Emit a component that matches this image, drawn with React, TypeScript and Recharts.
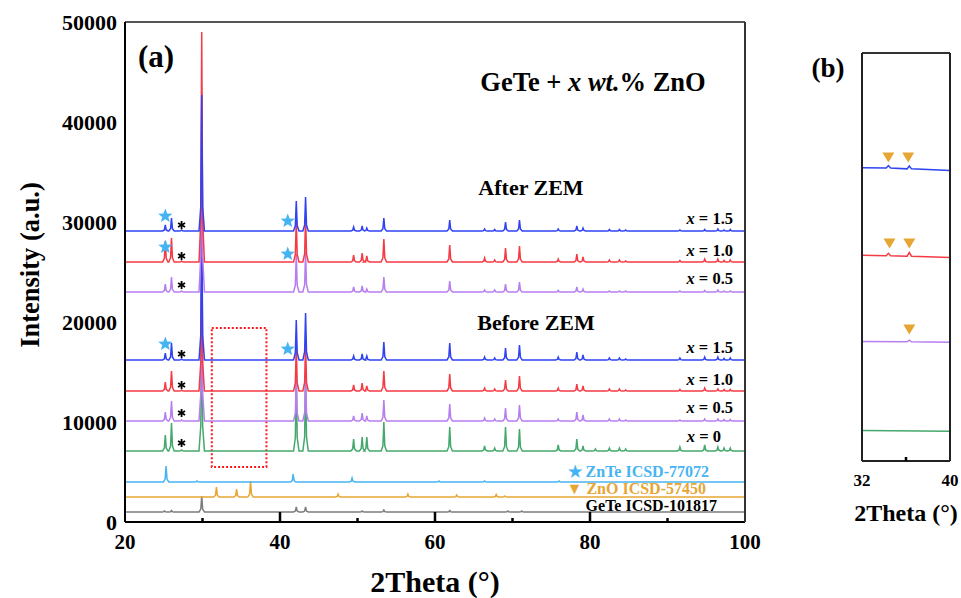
import React from 'react'
import { LineChart, Line, XAxis, YAxis, ReferenceArea, ReferenceDot } from 'recharts'

const FONT = '"Liberation Serif", "Times New Roman", serif'

// peak positions (2theta) shared by all GeTe + ZnO samples
const peakPos = [25.2, 26.0, 27.3, 29.9, 42.1, 43.3, 49.5, 50.6, 51.2, 53.4, 61.9, 66.4, 67.7, 69.1, 70.9, 75.9, 78.3, 79.1, 80.7, 82.5, 83.8, 84.6, 91.6, 94.8, 96.5, 97.3, 98.1]

// peak heights above baseline
const afterX15 = [600, 1300, 100, 13600, 3000, 3400, 400, 500, 300, 1300, 1100, 200, 150, 900, 1100, 200, 500, 300, 0, 150, 150, 100, 100, 150, 200, 100, 150]
const afterX10 = [2100, 2400, 100, 23000, 4200, 4500, 700, 900, 600, 2300, 1700, 400, 200, 1400, 1600, 300, 800, 500, 0, 200, 200, 100, 150, 300, 300, 150, 200]
const afterX05 = [800, 1500, 100, 20000, 3800, 4000, 500, 600, 300, 1500, 1100, 200, 200, 800, 1000, 150, 500, 300, 0, 100, 100, 100, 100, 150, 200, 100, 100]
const beforeX15 = [700, 1700, 100, 14000, 4000, 4700, 400, 600, 400, 1800, 1700, 300, 200, 1200, 1500, 300, 800, 500, 0, 200, 200, 100, 200, 300, 300, 150, 200]
const beforeX10 = [900, 2000, 100, 16000, 4500, 4800, 600, 800, 500, 2000, 1700, 300, 200, 1100, 1500, 300, 700, 500, 0, 200, 200, 100, 150, 300, 200, 150, 150]
const beforeX05 = [900, 2000, 100, 15000, 4300, 4600, 500, 800, 500, 2100, 1700, 300, 200, 1300, 1600, 200, 900, 600, 0, 200, 200, 100, 100, 200, 200, 150, 150]
const beforeX0 = [1600, 2800, 100, 14000, 7500, 7800, 1200, 1400, 1400, 2900, 2400, 500, 300, 2400, 2200, 600, 1200, 500, 200, 300, 300, 200, 400, 600, 400, 300, 300]

// baselines (offsets) of the stacked patterns
const baseAfter = [29100, 26000, 23000]
const baseBefore = [16200, 13100, 10100, 7100]

// reference patterns [2theta, height]
const znteRef: [number, number][] = [[25.3, 1600], [29.3, 100], [41.7, 800], [49.3, 400], [60.5, 100], [66.4, 100], [76.0, 100]]
const znoRef: [number, number][] = [[31.8, 1000], [34.4, 800], [36.2, 1600], [47.5, 300], [56.5, 300], [62.8, 200], [67.9, 250], [69.0, 100]]
const geteRef: [number, number][] = [[25.1, 100], [26.0, 150], [29.9, 1600], [42.1, 500], [43.3, 500], [50.6, 100], [53.4, 200], [61.9, 150], [69.4, 100], [71.2, 100]]
const refBase = [4000, 2500, 1000]

// axis ticks
const xLabels = [20, 40, 60, 80, 100]
const xMajor = [40, 60, 80]
const xMinor = [30, 50, 70, 90]
const yTicks = [0, 10000, 20000, 30000, 40000, 50000]

// markers in panel (a)
const starPts: [number, number][] = [[25.2, 30600], [25.2, 27500], [25.2, 17800], [41.0, 30100], [41.0, 26800], [41.0, 17300]]
const asteriskPts: [number, number][] = [[27.3, 29700], [27.3, 26600], [27.3, 23700], [27.3, 16800], [27.3, 13700], [27.3, 10900], [27.3, 7900]]

// panel (b): zoom 32-40 deg
const bBlue: [number, number][] = [[32, 71.9], [34.2, 71.8], [34.4, 72.4], [34.6, 71.8], [36.1, 71.6], [36.3, 72.3], [36.5, 71.6], [40, 71.2]]
const bRed: [number, number][] = [[32, 50.4], [34.2, 50.3], [34.4, 50.9], [34.6, 50.3], [36.1, 50.2], [36.3, 51.1], [36.5, 50.2], [40, 49.9]]
const bPurple: [number, number][] = [[32, 29.3], [36.1, 29.2], [36.3, 29.6], [36.5, 29.2], [40, 29.1]]
const bGreen: [number, number][] = [[32, 7.5], [40, 7.3]]
const bTriangles: [number, number][] = [[34.4, 74.4], [36.2, 74.4], [34.5, 53.3], [36.3, 53.3], [36.3, 32.2]]

const BLUE = '#2f43f2'
const RED = '#f53a44'
const PURPLE = '#b67ef0'
const GREEN = '#45a86c'
const LBLUE = '#46b4f2'
const ORANGE = '#e7a634'
const GRAY = '#7c7c7c'

function pattern(base: number, peaks: [number, number][]) {
  const pts = [{ x: 20, y: base }]
  peaks.forEach(([p, h]) => {
    if (h <= 0) return
    pts.push({ x: p - 0.35, y: base }, { x: p - 0.12, y: base + h * 0.18 }, { x: p, y: base + h }, { x: p + 0.12, y: base + h * 0.18 }, { x: p + 0.35, y: base })
  })
  pts.push({ x: 100, y: base })
  return pts
}

const zipPeaks = (h: number[]) => peakPos.map((p, i) => [p, h[i]] as [number, number])
const toPts = (a: [number, number][]) => a.map(([x, y]) => ({ x, y }))

const series = [
  { key: 'gete', color: GRAY, data: pattern(refBase[2], geteRef) },
  { key: 'zno', color: ORANGE, data: pattern(refBase[1], znoRef) },
  { key: 'znte', color: LBLUE, data: pattern(refBase[0], znteRef) },
  { key: 'b0', color: GREEN, data: pattern(baseBefore[3], zipPeaks(beforeX0)) },
  { key: 'b05', color: PURPLE, data: pattern(baseBefore[2], zipPeaks(beforeX05)) },
  { key: 'b10', color: RED, data: pattern(baseBefore[1], zipPeaks(beforeX10)) },
  { key: 'b15', color: BLUE, data: pattern(baseBefore[0], zipPeaks(beforeX15)) },
  { key: 'a05', color: PURPLE, data: pattern(baseAfter[2], zipPeaks(afterX05)) },
  { key: 'a10', color: RED, data: pattern(baseAfter[1], zipPeaks(afterX10)) },
  { key: 'a15', color: BLUE, data: pattern(baseAfter[0], zipPeaks(afterX15)) },
]

const bSeries = [
  { key: 'g', color: GREEN, data: toPts(bGreen) },
  { key: 'p', color: PURPLE, data: toPts(bPurple) },
  { key: 'r', color: RED, data: toPts(bRed) },
  { key: 'b', color: BLUE, data: toPts(bBlue) },
]

const Star = ({ cx, cy }: any) => {
  const pts: string[] = []
  for (let i = 0; i < 10; i++) {
    const r = i % 2 === 0 ? 7.5 : 3.2
    const a = -Math.PI / 2 + (i * Math.PI) / 5
    pts.push(`${cx + r * Math.cos(a)},${cy + r * Math.sin(a)}`)
  }
  return <polygon points={pts.join(' ')} fill={LBLUE} />
}

const Asterisk = ({ cx, cy }: any) => (
  <g stroke="#000" strokeWidth={1.8}>
    <line x1={cx} y1={cy - 4} x2={cx} y2={cy + 4} />
    <line x1={cx - 3.5} y1={cy - 2} x2={cx + 3.5} y2={cy + 2} />
    <line x1={cx - 3.5} y1={cy + 2} x2={cx + 3.5} y2={cy - 2} />
  </g>
)

const Tri = ({ cx, cy }: any) => (
  <polygon points={`${cx - 6},${cy - 5} ${cx + 6},${cy - 5} ${cx},${cy + 5}`} fill={ORANGE} />
)

// inward tick mark drawn from the axis upward
const TickMark = ({ cx, cy, len }: any) => (
  <rect x={cx - 1.25} y={cy - len} width={2.5} height={len} fill="#000" />
)

const XTick = (props: any) => {
  const { x, y, payload } = props
  return (
    <text x={x} y={y + 27} textAnchor="middle" fontFamily={FONT} fontWeight="bold" fontSize={21} fill="#000">{payload.value}</text>
  )
}

const BTick = (props: any) => {
  const { x, y, payload } = props
  return (
    <text x={x} y={y + 25} textAnchor="middle" fontFamily={FONT} fontWeight="bold" fontSize={17} fill="#000">{payload.value}</text>
  )
}

const Lbl = ({ x, y, size, anchor = 'center', color = '#000', rotate, children }: any) => (
  <div
    style={{
      position: 'absolute', left: x, top: y, fontFamily: FONT, fontWeight: 'bold', fontSize: size, color, lineHeight: 1, whiteSpace: 'nowrap',
      transform: `translate(${anchor === 'right' ? '-100%' : '-50%'}, -50%)${rotate ? ` rotate(${rotate}deg)` : ''}`,
    }}
  >
    {children}
  </div>
)

const XEq = ({ v }: { v: string }) => (<><i>x</i> = {v}</>)

export default function App() {
  return (
    <div style={{ position: 'absolute', left: 0, top: 0, width: 961, height: 598, background: '#fff' }}>
      <div style={{ position: 'absolute', left: 0, top: 0 }}>
        <LineChart width={961} height={598} margin={{ top: 21, left: 124, right: 215, bottom: 75 }}>
          <XAxis dataKey="x" type="number" domain={[20, 100]} ticks={xLabels} height={1} tickSize={0} tickMargin={0} tickLine={false} axisLine={{ stroke: '#000', strokeWidth: 2 }} tick={<XTick />} allowDataOverflow />
          <XAxis xAxisId="top" orientation="top" dataKey="x" type="number" domain={[20, 100]} height={1} tick={false} tickLine={false} axisLine={{ stroke: '#555', strokeWidth: 2 }} />
          <YAxis type="number" domain={[0, 50000]} ticks={yTicks} width={1} tickSize={0} tickMargin={8} tickLine={false} axisLine={{ stroke: '#000', strokeWidth: 2 }} tick={{ fontFamily: FONT, fontWeight: 'bold', fontSize: 22, fill: '#000' }} allowDataOverflow />
          <YAxis yAxisId="right" orientation="right" type="number" domain={[0, 50000]} width={1} tick={false} tickLine={false} axisLine={{ stroke: '#333', strokeWidth: 2 }} />
          {series.map((s) => (
            <Line key={s.key} data={s.data} dataKey="y" type="linear" stroke={s.color} strokeWidth={1.5} dot={false} isAnimationActive={false} />
          ))}
          {xMajor.map((v) => (
            <ReferenceDot key={'M' + v} x={v} y={0} r={0} ifOverflow="visible" shape={(p: any) => <TickMark cx={p.cx} cy={p.cy} len={10} />} />
          ))}
          {xMinor.map((v) => (
            <ReferenceDot key={'m' + v} x={v} y={0} r={0} ifOverflow="visible" shape={(p: any) => <TickMark cx={p.cx} cy={p.cy} len={4} />} />
          ))}
          <ReferenceArea x1={31.2} x2={38.25} y1={5500} y2={19400} fill="none" stroke="#ff1a1a" strokeWidth={2} strokeDasharray="2 2" />
          {starPts.map(([x, y], i) => (
            <ReferenceDot key={'s' + i} x={x} y={y} r={0} shape={(p: any) => <Star cx={p.cx} cy={p.cy} />} />
          ))}
          {asteriskPts.map(([x, y], i) => (
            <ReferenceDot key={'a' + i} x={x} y={y} r={0} shape={(p: any) => <Asterisk cx={p.cx} cy={p.cy} />} />
          ))}
        </LineChart>
      </div>
      <div style={{ position: 'absolute', left: 0, top: 0 }}>
        <LineChart width={961} height={598} margin={{ top: 52, left: 861, right: 10, bottom: 136 }}>
          <XAxis dataKey="x" type="number" domain={[32, 40]} ticks={[32, 40]} height={1} tickSize={0} tickMargin={0} tickLine={false} axisLine={{ stroke: '#222', strokeWidth: 2 }} tick={<BTick />} />
          <XAxis xAxisId="top" orientation="top" dataKey="x" type="number" domain={[32, 40]} height={1} tick={false} tickLine={false} axisLine={{ stroke: '#333', strokeWidth: 2 }} />
          <YAxis type="number" domain={[0, 100]} width={1} tick={false} tickLine={false} axisLine={{ stroke: '#222', strokeWidth: 2 }} />
          <YAxis yAxisId="right" orientation="right" type="number" domain={[0, 100]} width={1} tick={false} tickLine={false} axisLine={{ stroke: '#222', strokeWidth: 2 }} />
          {bSeries.map((s) => (
            <Line key={s.key} data={s.data} dataKey="y" type="linear" stroke={s.color} strokeWidth={1.5} dot={false} isAnimationActive={false} />
          ))}
          <ReferenceDot x={36} y={0} r={0} ifOverflow="visible" shape={(p: any) => <TickMark cx={p.cx} cy={p.cy} len={4} />} />
          {bTriangles.map(([x, y], i) => (
            <ReferenceDot key={'t' + i} x={x} y={y} r={0} shape={(p: any) => <Tri cx={p.cx} cy={p.cy} />} />
          ))}
        </LineChart>
      </div>

      <Lbl x={156} y={56} size={31}>(a)</Lbl>
      <Lbl x={593} y={82} size={26.5}>GeTe + <i>x</i> <i>wt.</i>% ZnO</Lbl>
      <Lbl x={531} y={188} size={22}>After ZEM</Lbl>
      <Lbl x={536} y={323} size={22}>Before ZEM</Lbl>
      <Lbl x={733} y={219} size={16.5} anchor="right"><XEq v="1.5" /></Lbl>
      <Lbl x={733} y={251} size={16.5} anchor="right"><XEq v="1.0" /></Lbl>
      <Lbl x={733} y={279} size={16.5} anchor="right"><XEq v="0.5" /></Lbl>
      <Lbl x={733} y={348} size={16.5} anchor="right"><XEq v="1.5" /></Lbl>
      <Lbl x={733} y={380} size={16.5} anchor="right"><XEq v="1.0" /></Lbl>
      <Lbl x={733} y={408} size={16.5} anchor="right"><XEq v="0.5" /></Lbl>
      <Lbl x={721} y={437} size={16.5} anchor="right"><XEq v="0" /></Lbl>
      <Lbl x={709} y={472} size={16} anchor="right" color={LBLUE}>★ ZnTe ICSD-77072</Lbl>
      <Lbl x={706} y={489} size={16} anchor="right" color={ORANGE}>▼ ZnO ICSD-57450</Lbl>
      <Lbl x={717} y={506} size={16} anchor="right">GeTe ICSD-101817</Lbl>
      <Lbl x={30} y={265} size={26.5} rotate={-90}>Intensity (a.u.)</Lbl>
      <Lbl x={435} y={582} size={30}>2Theta (°)</Lbl>
      <Lbl x={828} y={68} size={27}>(b)</Lbl>
      <Lbl x={906} y={513} size={24}>2Theta (°)</Lbl>
    </div>
  )
}
